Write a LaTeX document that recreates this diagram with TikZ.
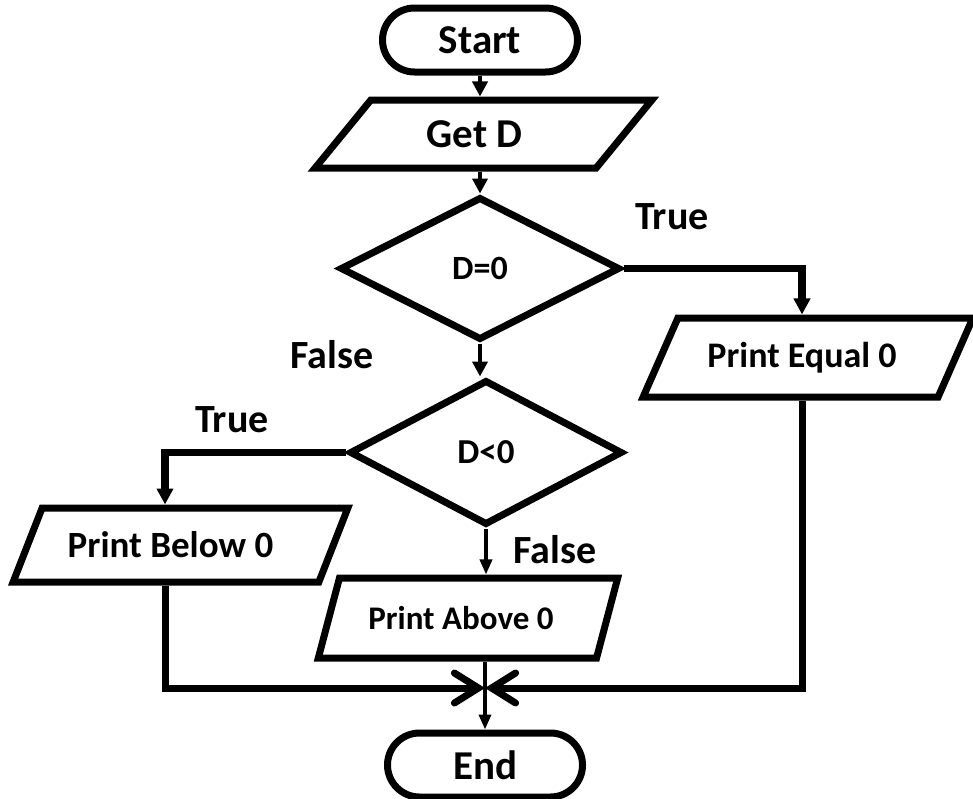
\documentclass[tikz,border=0pt]{standalone}
\usepackage{fontspec}
\setmainfont{Carlito}
\usetikzlibrary{shapes.geometric,arrows.meta}
\begin{document}
\begin{tikzpicture}[x=1pt,y=-1pt,
  term/.style={draw,line width=7pt,rectangle,rounded corners=32pt,
    minimum width=195pt,minimum height=64pt,inner sep=0pt,
    font=\bfseries\fontsize{41}{41}\selectfont},
  io/.style={draw,line width=7pt,trapezium,trapezium stretches=true,inner sep=0pt},
  dec/.style={draw,line width=7pt,diamond,inner sep=0pt},
  lab/.style={font=\bfseries\fontsize{40}{40}\selectfont},
  flow/.style={line width=4.5pt,-{Triangle[length=15pt,width=15pt]}},
  thinflow/.style={line width=3.5pt,-{Triangle[length=15pt,width=12pt]}},
  branch/.style={line width=7.5pt,-{Triangle[length=16pt,width=16pt]}},
  mergeline/.style={line width=7pt,-{Straight Barb[length=24pt,width=30pt,line cap=round]}}
]
\useasboundingbox (0,0) rectangle (973,798);

% process blocks
\node[term] (start) at (480,40) {Start};
\node[io,minimum width=337pt,minimum height=68pt,
  trapezium left angle=44,trapezium right angle=136,
  font=\bfseries\fontsize{41}{41}\selectfont] (getd) at (483.5,134) {Get D\hspace*{18pt}};
\node[dec,minimum width=280pt,minimum height=143pt,
  font=\bfseries\fontsize{34}{34}\selectfont] (d0) at (480,268.5) {D=0};
\node[io,minimum width=330pt,minimum height=79pt,
  trapezium left angle=49,trapezium right angle=131,
  font=\bfseries\fontsize{36}{36}\selectfont] (eq) at (808,357.5) {Print Equal 0\hspace*{12pt}};
\node[dec,minimum width=273pt,minimum height=145pt,
  font=\bfseries\fontsize{35}{35}\selectfont] (dlt) at (486,452.5) {D<0};
\node[io,minimum width=335pt,minimum height=74pt,
  trapezium left angle=48,trapezium right angle=132,
  font=\bfseries\fontsize{37}{37}\selectfont] (below) at (180.5,545) {Print Below 0\hspace*{20pt}};
\node[io,minimum width=300pt,minimum height=80pt,
  trapezium left angle=55,trapezium right angle=125,
  font=\bfseries\fontsize{33}{33}\selectfont] (above) at (468,618) {Print Above 0\hspace*{14pt}};
\node[term] (end) at (485,765) {End};

% branch labels
\node[lab] (t1) at (672,217) {True};
\node[lab] (f1) at (332,355) {False};
\node[lab] (t2) at (232,420) {True};
\node[lab] (f2) at (555,550) {False};

% bend points and junction
\coordinate (rcol) at (802,268.5);
\coordinate (lcol) at (165,452.5);
\coordinate (merge) at (485,688);

% connectors
\draw[flow] (start.south) -- (start.south |- getd.north);
\draw[flow] (d0.north |- getd.south) -- (d0.north);
\draw[flow] (d0.south) -- (d0.south |- dlt.north);
\draw[branch] (d0.east) -- (rcol) -- (rcol |- eq.north);
\draw[branch] (dlt.west) -- (lcol) -- (lcol |- below.north);
\draw[thinflow] (dlt.south) -- (dlt.south |- above.north);
\draw[thinflow] (above.south -| end.north) -- (end.north);
\draw[mergeline] (lcol |- below.south) -- (lcol |- merge) -- (merge);
\draw[mergeline] (rcol |- eq.south) -- (rcol |- merge) -- (merge);
\end{tikzpicture}
\end{document}
